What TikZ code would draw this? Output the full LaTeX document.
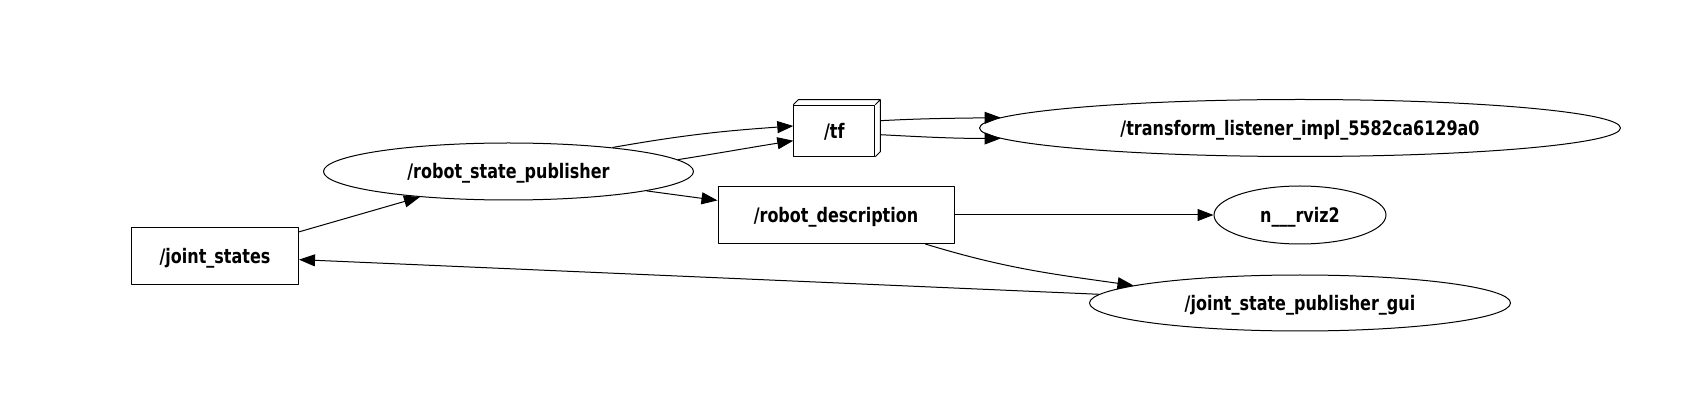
\documentclass[tikz,border=0pt]{standalone}
\usepackage{fontspec}
\setmainfont{DejaVu Sans}[FakeStretch=0.8]
\usetikzlibrary{arrows.meta,shapes.geometric,positioning,calc}

\begin{document}
\begin{tikzpicture}[x=1pt,y=-1pt,line join=round,line width=1pt,
  font=\bfseries\fontsize{20}{23}\selectfont,
  every node/.style={text height=15pt,text depth=0pt},
  topic/.style={draw,rectangle,inner sep=0pt,minimum height=57pt},
  rosnode/.style={draw,ellipse,inner sep=0pt,minimum height=57pt},
  link/.style={-{Triangle[length=16pt,width=12pt]}}]
\path[fill=white] (0,0) rectangle (1691,411);
% nodes and topics
\node[topic,minimum width=167pt]   (js)   at (215,256)   {/joint\_states};
\node[rosnode,minimum width=370pt] (rsp)  at (508.5,171.5) {/robot\_state\_publisher};
\node[topic,minimum width=81pt,minimum height=51pt] (tf) at (834.3,130.7) {/tf};
\node[topic,minimum width=236pt]   (rd)   at (836,215)   {/robot\_description};
\node[rosnode,minimum width=641pt] (tl)   at (1300,128)  {/transform\_listener\_impl\_5582ca6129a0};
\node[rosnode,minimum width=172pt,minimum height=58pt] (rviz) at (1300,215) {n\_\_\_rviz2};
\node[rosnode,minimum width=421pt,minimum height=56pt] (jspg) at (1300,303) {/joint\_state\_publisher\_gui};
\draw (tf.north west) -- ++(5,-5) -- ([shift={(5,-5)}]tf.north east) -- ([shift={(5,-5)}]tf.south east) -- (tf.south east)
      (tf.north east) -- ++(5,-5);
% connections
\draw[link] (js) -- (rsp);
\draw[link] (rsp.13) to[out=10,in=184] ([yshift=4.7pt]tf.west);
\draw[link] (rsp.4) to[out=9,in=189] ([yshift=-10pt]tf.west);
\draw[link] (rsp.-8) -- (rd.173);
\draw[link] ([shift={(5,-10)}]tf.east) to[out=3,in=181] (tl.178);
\draw[link] ([shift={(5,4)}]tf.east) to[out=-3,in=180] (tl.182);
\draw[link] (rd) -- (rviz);
\draw[link] (rd.-18) to[out=-17,in=172] (jspg.174);
\draw[link] (jspg) -- (js);
\end{tikzpicture}
\end{document}
